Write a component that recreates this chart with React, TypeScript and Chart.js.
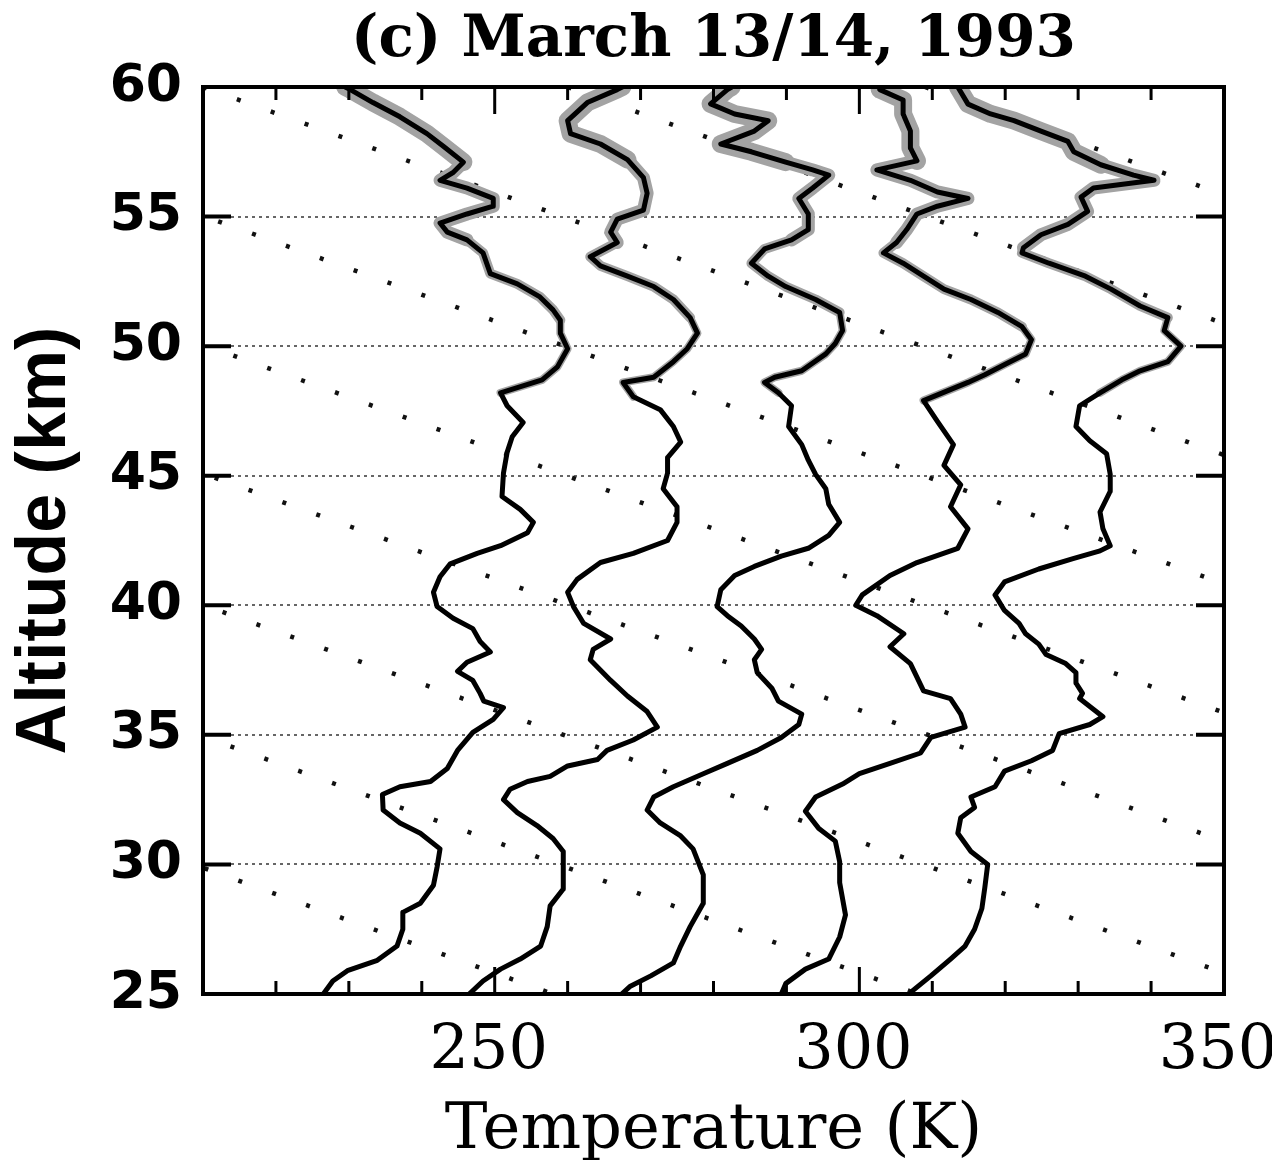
import React, { useEffect, useRef } from "react";
import { Chart, registerables } from "chart.js";

Chart.register(...registerables);

const TITLE = "(c) March 13/14, 1993";
const X_TITLE = "Temperature (K)";
const Y_TITLE = "Altitude (km)";

const X_MIN = 210;
const X_MAX = 350;
const Y_MIN = 25;
const Y_MAX = 60;

const xTickLabels = [250, 300, 350];
const xTickMarks = [220, 230, 240, 250, 260, 270, 280, 290, 300, 310, 320, 330, 340];
const xLongTickMarks = [250, 300];
const yTickValues = [25, 30, 35, 40, 45, 50, 55, 60];
const yGridValues = [30, 35, 40, 45, 50, 55];

// Profile 1
const p1Alt = [60.0, 59.9, 59.4, 58.85, 58.2, 57.7, 57.1, 56.7, 56.4, 56.1, 55.7, 55.4, 55.1, 54.75, 54.4, 54.1, 53.6, 52.8, 52.4, 51.9, 51.4, 51.0, 50.5, 49.9, 49.2, 48.7, 48.2, 47.7, 47.05, 46.5, 45.9, 45.1, 44.2, 43.7, 43.2, 42.8, 42.3, 42.0, 41.6, 41.1, 40.5, 39.95, 39.5, 39.1, 38.6, 38.2, 37.8, 37.45, 37.1, 36.6, 36.3, 36.05, 35.6, 35.1, 34.4, 33.7, 33.2, 33.0, 32.7, 32.1, 31.6, 31.2, 30.6, 29.9, 29.2, 28.5, 28.15, 27.5, 26.85, 26.3, 25.9, 25.5, 25.0];
const p1Temp = [229.5, 230.2, 233.3, 237.0, 240.7, 243.0, 245.7, 244.3, 242.5, 246.2, 249.8, 249.8, 246.2, 242.5, 243.5, 246.2, 248.4, 249.4, 253.1, 256.2, 258.0, 259.0, 259.0, 260.0, 258.6, 256.5, 250.8, 251.7, 253.9, 252.4, 251.7, 251.2, 251.0, 253.5, 255.3, 254.5, 250.8, 247.6, 243.9, 242.5, 241.6, 242.1, 244.3, 247.0, 248.0, 249.4, 246.2, 244.9, 247.0, 248.0, 248.5, 251.2, 249.8, 247.0, 244.9, 243.5, 241.2, 237.0, 234.6, 234.7, 237.0, 239.8, 242.5, 242.1, 241.6, 239.8, 237.4, 237.4, 236.6, 233.9, 229.8, 227.8, 226.5];

// Profile 2
const p2Alt = [60.0, 59.9, 59.4, 58.7, 58.2, 57.8, 57.2, 56.5, 55.9, 55.25, 54.9, 54.4, 54.0, 53.45, 53.1, 52.7, 52.3, 51.8, 51.1, 50.5, 49.9, 49.4, 48.8, 48.6, 48.05, 47.55, 46.9, 46.3, 45.7, 45.1, 44.5, 43.8, 43.2, 42.5, 42.0, 41.65, 41.0, 40.5, 39.95, 39.3, 38.7, 38.3, 37.9, 37.1, 36.5, 35.9, 35.3, 34.8, 34.4, 34.05, 33.8, 33.4, 33.2, 32.9, 32.5, 32.0, 31.5, 31.0, 30.5, 29.7, 29.05, 28.4, 27.6, 26.85, 26.35, 25.96, 25.5, 25.0];
const p2Temp = [267.5, 266.8, 262.7, 260.0, 260.4, 264.5, 268.2, 270.4, 270.9, 270.4, 266.8, 265.9, 266.8, 263.1, 264.5, 268.2, 271.8, 274.5, 276.8, 277.8, 276.4, 274.5, 271.8, 267.6, 269.0, 272.7, 274.5, 275.5, 273.7, 273.7, 273.1, 275.0, 275.0, 273.7, 269.0, 264.5, 261.3, 260.0, 260.8, 262.2, 265.9, 263.5, 263.1, 265.9, 268.2, 270.9, 272.3, 269.0, 265.4, 264.1, 260.0, 257.6, 254.5, 252.1, 251.2, 253.1, 255.8, 258.0, 259.4, 259.4, 259.4, 257.6, 257.2, 256.3, 253.5, 250.8, 248.4, 246.5];

// Profile 3
const p3Alt = [60.0, 59.9, 59.35, 58.96, 58.7, 58.3, 57.8, 57.5, 57.1, 56.8, 56.6, 56.1, 55.7, 55.1, 54.5, 54.1, 53.75, 53.2, 52.7, 52.3, 51.8, 51.3, 50.6, 50.1, 49.7, 49.05, 48.8, 48.6, 48.2, 47.7, 46.9, 46.2, 45.6, 45.05, 44.5, 43.9, 43.2, 42.7, 42.2, 41.9, 41.5, 41.15, 40.6, 39.95, 39.6, 39.2, 38.7, 38.3, 37.9, 37.4, 36.8, 36.3, 35.8, 35.4, 34.9, 34.4, 33.9, 33.5, 33.0, 32.6, 32.1, 31.6, 31.1, 30.6, 29.6, 28.5, 27.6, 26.85, 26.2, 25.7, 25.3, 25.0];
const p3Temp = [282.5, 281.9, 279.6, 282.9, 287.5, 285.6, 281.0, 285.2, 289.9, 293.6, 295.8, 293.6, 291.7, 293.0, 293.0, 290.7, 287.0, 285.2, 287.5, 289.9, 294.0, 297.3, 297.7, 296.7, 295.4, 292.1, 288.4, 287.0, 288.9, 290.7, 290.3, 292.1, 293.0, 294.0, 295.4, 295.8, 297.3, 295.8, 293.0, 289.3, 285.6, 282.9, 281.0, 280.5, 281.9, 283.8, 285.6, 286.6, 285.6, 286.0, 288.0, 288.9, 292.1, 291.7, 289.3, 286.0, 281.9, 278.6, 274.5, 271.8, 270.9, 272.7, 275.5, 277.2, 278.6, 278.6, 276.8, 275.5, 274.5, 271.4, 268.6, 267.4];

// Profile 4
const p4Alt = [60.0, 59.9, 59.5, 58.96, 58.3, 57.65, 57.15, 56.8, 56.4, 55.95, 55.7, 55.4, 55.1, 54.5, 54.0, 53.6, 53.2, 52.7, 52.2, 51.8, 51.3, 50.75, 50.25, 49.7, 49.3, 48.9, 48.6, 47.9, 47.1, 46.2, 45.4, 44.65, 43.8, 42.95, 42.2, 41.65, 41.15, 40.4, 40.0, 39.6, 38.9, 38.4, 37.75, 36.7, 36.4, 35.8, 35.3, 34.9, 34.3, 33.9, 33.5, 33.1, 32.6, 32.05, 31.4, 30.9, 30.1, 29.3, 28.05, 27.2, 26.35, 25.96, 25.4, 25.0];
const p4Temp = [303.0, 302.8, 306.0, 306.0, 307.0, 307.0, 307.9, 302.4, 307.0, 310.7, 314.9, 310.7, 307.9, 306.5, 305.1, 303.3, 306.0, 308.8, 311.6, 315.3, 319.0, 322.3, 323.6, 322.8, 320.0, 317.2, 314.9, 308.8, 310.7, 312.9, 311.6, 313.9, 312.5, 314.9, 313.5, 307.9, 304.2, 300.4, 299.5, 302.4, 306.1, 304.2, 307.0, 308.8, 312.5, 313.9, 314.5, 309.8, 308.4, 304.2, 300.0, 297.7, 294.0, 292.6, 294.4, 296.7, 297.3, 297.3, 298.1, 297.3, 295.8, 292.6, 289.9, 289.3];

// Profile 5
const p5Alt = [60.0, 59.34, 58.96, 58.7, 58.3, 57.9, 57.5, 57.0, 56.6, 56.4, 56.1, 55.75, 55.2, 54.7, 54.3, 53.8, 53.6, 53.2, 52.7, 52.2, 51.55, 51.1, 50.6, 50.0, 49.4, 49.05, 48.7, 48.2, 47.7, 46.9, 46.35, 45.85, 45.05, 44.4, 43.6, 42.95, 42.3, 42.1, 41.8, 41.4, 40.9, 40.4, 39.8, 39.3, 38.9, 38.5, 38.1, 37.75, 37.4, 37.0, 36.6, 36.4, 35.7, 35.4, 35.05, 34.4, 34.0, 33.6, 33.0, 32.6, 32.2, 31.8, 31.2, 30.5, 30.0, 29.1, 28.3, 27.5, 26.85, 26.35, 25.7, 25.15, 25.0];
const p5Temp = [313.5, 314.9, 318.0, 321.2, 324.9, 328.6, 329.4, 333.1, 337.6, 340.4, 332.1, 330.4, 331.3, 328.6, 324.9, 322.5, 322.3, 326.0, 331.0, 334.5, 338.5, 342.3, 341.8, 344.1, 342.3, 338.5, 336.0, 333.0, 330.2, 329.7, 331.6, 333.9, 334.4, 334.4, 333.0, 333.4, 334.4, 333.0, 329.3, 324.6, 319.9, 318.6, 319.9, 321.9, 322.8, 324.6, 325.6, 328.3, 329.7, 329.7, 330.6, 330.2, 333.4, 331.6, 327.4, 326.5, 323.6, 319.9, 318.6, 315.3, 315.8, 313.9, 313.5, 315.3, 317.6, 317.2, 316.8, 315.8, 314.5, 312.5, 309.8, 307.4, 307.0];

// Dry-adiabat reference lines (dotted): temperature at 60 km and at 25 km
const adiabatTempAt60 = [-87, -37, 13, 63, 112, 161, 210, 260, 309];
const adiabatTempAt25 = [258, 308, 358, 408, 457, 506, 555, 605, 654];

const profileAlts = [p1Alt, p2Alt, p3Alt, p4Alt, p5Alt];
const profileTemps = [p1Temp, p2Temp, p3Temp, p4Temp, p5Temp];

const bandWidthFor = (z: number) => {
  if (z >= 57) return 18;
  if (z >= 54) return 13;
  if (z >= 51) return 10;
  if (z >= 48) return 8;
  return 1;
};

const framePlugin = {
  id: "frameTicks",
  beforeDatasetsDraw(chart: any) {
    const { ctx, chartArea: a, scales } = chart;
    const y = scales.y;
    ctx.save();
    ctx.strokeStyle = "#666";
    ctx.lineWidth = 2;
    ctx.setLineDash([3, 4]);
    for (const v of yGridValues) {
      const py = Math.round(y.getPixelForValue(v));
      ctx.beginPath();
      ctx.moveTo(a.left, py);
      ctx.lineTo(a.right, py);
      ctx.stroke();
    }
    ctx.restore();
  },
  afterDraw(chart: any) {
    const { ctx, chartArea: a, scales } = chart;
    const x = scales.x;
    const y = scales.y;
    ctx.save();
    ctx.strokeStyle = "#000";
    ctx.lineWidth = 3;
    for (const v of xTickMarks) {
      const px = x.getPixelForValue(v);
      const len = xLongTickMarks.includes(v) ? 27 : 13;
      ctx.beginPath();
      ctx.moveTo(px, a.bottom);
      ctx.lineTo(px, a.bottom - len);
      ctx.moveTo(px, a.top);
      ctx.lineTo(px, a.top + len);
      ctx.stroke();
    }
    ctx.lineWidth = 4;
    for (const v of yGridValues) {
      const py = y.getPixelForValue(v);
      ctx.beginPath();
      ctx.moveTo(a.left, py);
      ctx.lineTo(a.left + 28, py);
      ctx.moveTo(a.right, py);
      ctx.lineTo(a.right - 28, py);
      ctx.stroke();
    }
    ctx.lineWidth = 4;
    ctx.strokeRect(a.left, a.top, a.right - a.left, a.bottom - a.top);
    ctx.restore();
  },
};

export default function App() {
  const ref = useRef<HTMLCanvasElement>(null);

  useEffect(() => {
    document.body.style.margin = "0";
    const canvas = ref.current;
    if (!canvas) return;

    const toPts = (alt: number[], temp: number[]) => alt.map((z, i) => ({ x: temp[i], y: z }));
    const datasets: any[] = [];

    profileAlts.forEach((alt, i) => {
      datasets.push({
        label: `Profile ${i + 1}`,
        data: toPts(alt, profileTemps[i]),
        showLine: true,
        borderColor: "#000",
        borderWidth: 5,
        pointRadius: 0,
        tension: 0,
        borderJoinStyle: "round",
        borderCapStyle: "round",
        order: 0,
      });
    });

    profileAlts.forEach((alt, i) => {
      datasets.push({
        label: `Uncertainty ${i + 1}`,
        data: toPts(alt, profileTemps[i]),
        showLine: true,
        borderColor: "#a3a3a3",
        borderWidth: 1,
        pointRadius: 0,
        tension: 0,
        borderJoinStyle: "round",
        borderCapStyle: "round",
        segment: {
          borderWidth: (c: any) => bandWidthFor((c.p0.parsed.y + c.p1.parsed.y) / 2),
          borderColor: (c: any) =>
            (c.p0.parsed.y + c.p1.parsed.y) / 2 >= 47.5 ? "#a3a3a3" : "rgba(0,0,0,0)",
        },
        order: 1,
      });
    });

    adiabatTempAt60.forEach((t60, i) => {
      datasets.push({
        label: `Adiabat ${i + 1}`,
        data: [
          { x: t60, y: Y_MAX },
          { x: adiabatTempAt25[i], y: Y_MIN },
        ],
        showLine: true,
        borderColor: "#111",
        borderWidth: 4.5,
        borderDash: [4, 32],
        borderCapStyle: "butt",
        pointRadius: 0,
        tension: 0,
        order: 2,
      });
    });

    const chart = new Chart(canvas, {
      type: "scatter",
      data: { datasets },
      options: {
        responsive: false,
        animation: false,
        events: [],
        layout: { padding: { left: 0, right: 48, top: 0, bottom: 0 } },
        plugins: {
          legend: { display: false },
          tooltip: { enabled: false },
          title: {
            display: true,
            text: TITLE,
            fullSize: false,
            color: "#000",
            font: { family: "DejaVu Serif", size: 58, weight: "bold", lineHeight: 1 },
            padding: { top: 12, bottom: 17 },
          },
        },
        scales: {
          x: {
            type: "linear",
            min: X_MIN,
            max: X_MAX,
            grid: { display: false, drawTicks: false },
            border: { display: false },
            afterBuildTicks: (s: any) => {
              s.ticks = xTickLabels.map((v) => ({ value: v }));
            },
            afterFit: (s: any) => {
              s.height = 166;
              s.paddingLeft = 0;
              s.paddingRight = 0;
            },
            ticks: {
              color: "#000",
              font: { family: "DejaVu Serif", size: 62, lineHeight: 1.2 },
              padding: 21,
              labelOffset: -6,
              maxRotation: 0,
              autoSkip: false,
            },
            title: {
              display: true,
              text: X_TITLE,
              color: "#000",
              font: { family: "DejaVu Serif", size: 64, lineHeight: 0.85 },
              padding: { top: 0, bottom: 1 },
            },
          },
          y: {
            type: "linear",
            min: Y_MIN,
            max: Y_MAX,
            grid: { display: false, drawTicks: false },
            border: { display: false },
            afterBuildTicks: (s: any) => {
              s.ticks = yTickValues.map((v) => ({ value: v }));
            },
            afterFit: (s: any) => {
              s.width = 203;
              s.paddingTop = 0;
              s.paddingBottom = 0;
            },
            ticks: {
              color: "#000",
              font: { family: "DejaVu Sans", size: 52, weight: "bold", lineHeight: 1.2 },
              padding: 21,
              autoSkip: false,
            },
            title: {
              display: true,
              text: Y_TITLE,
              color: "#000",
              font: { family: "Liberation Sans", size: 70, weight: "bold", lineHeight: 1 },
              padding: { top: 11, bottom: 0 },
            },
          },
        },
      },
      plugins: [framePlugin],
    });

    return () => chart.destroy();
  }, []);

  return <canvas ref={ref} width={1272} height={1160} style={{ display: "block" }} />;
}
